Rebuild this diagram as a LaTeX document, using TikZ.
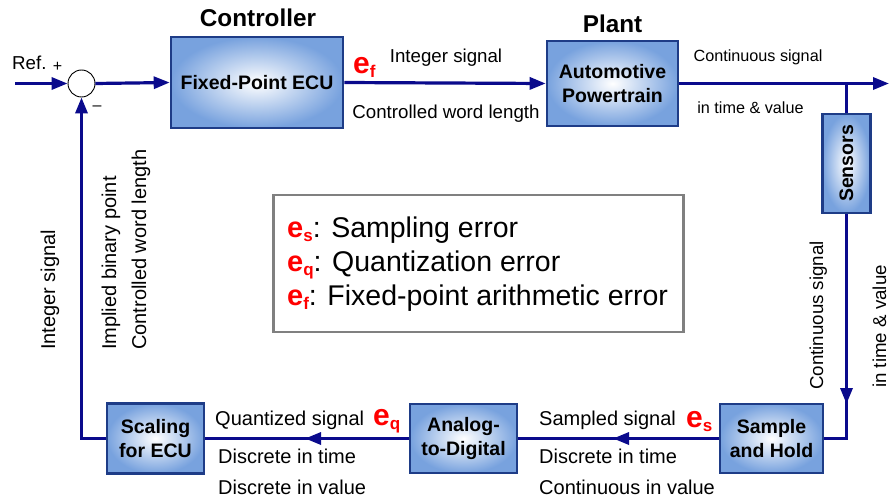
\documentclass[tikz,border=0pt]{standalone}
\usepackage{fontspec}
\setmainfont{Liberation Sans}
\usetikzlibrary{arrows.meta}
\definecolor{linec}{RGB}{10,10,140}
\definecolor{boxborder}{RGB}{30,60,135}
\definecolor{boxout}{RGB}{120,162,222}
\definecolor{legendgray}{RGB}{128,128,128}
\newcommand{\bigerr}[1]{{\fontsize{30}{32}\selectfont\bfseries\color{red}e\raisebox{-4pt}{\fontsize{17}{18}\selectfont #1}}}
\newcommand{\legerr}[1]{{\fontsize{29}{32}\selectfont\bfseries\color{red}e\raisebox{-4pt}{\fontsize{17}{18}\selectfont #1}}}
\tikzset{
  blk/.style={draw=boxborder, line width=2.6pt, inner color=white, outer color=boxout,
    align=center, font=\fontsize{19.5}{23.5}\selectfont\bfseries, inner sep=0pt},
  conn/.style={draw=linec, line width=3.2pt},
  tip/.style={-{Triangle[length=16pt,width=12pt]}},
  lbl/.style={font=\fontsize{18.7}{22}\selectfont, inner sep=0pt},
  lblsm/.style={font=\fontsize{16.2}{19}\selectfont, inner sep=0pt},
  lblbig/.style={font=\fontsize{20}{24}\selectfont, inner sep=0pt},
  ttl/.style={font=\fontsize{24.3}{28}\selectfont\bfseries, inner sep=0pt},
  legtxt/.style={font=\fontsize{28.5}{32}\selectfont, inner sep=0pt, anchor=base west}
}
\begin{document}
\begin{tikzpicture}[x=1pt,y=-1pt]
\useasboundingbox[fill=white] (0,0) rectangle (889,500);

% blocks
\node[blk, minimum width=172pt, minimum height=91pt] (ecu) at (257,82.5) {Fixed-Point ECU};
\node[blk, minimum width=131pt, minimum height=85pt] (plant) at (612.5,83.5) {Automotive\\Powertrain};
\node[blk, minimum width=99pt, minimum height=48pt, rotate=90] (sens) at (846.5,163.5) {Sensors};
\node[blk, minimum width=103pt, minimum height=69pt] (sh) at (771.5,438.5) {Sample\\and Hold};
\node[blk, minimum width=107pt, minimum height=69pt] (ad) at (463.5,438.5) {Analog-\\to-Digital};
\node[blk, minimum width=97pt, minimum height=70pt] (sc) at (155.5,438.5) {Scaling\\for ECU};

% summing junction
\node[circle, draw=black, line width=0.9pt, fill=white, minimum size=27pt, inner sep=0pt] (sum) at (81.5,83.5) {};

% titles
\node[ttl, anchor=base] (tctrl) at (258,27) {Controller};
\node[ttl, anchor=base] (tplant) at (612.5,32.5) {Plant};

% coordinates
\coordinate (refin) at (15,83.5);
\coordinate (outend) at (889,83.5);
\coordinate (branch) at (846.5,83.5);
\coordinate (downtip) at (846.5,404);
\coordinate (downmid) at (846.5,398);
\coordinate (shcorner) at (846.5,438.5);
\coordinate (m1) at (613,438.5);
\coordinate (m1b) at (620,438.5);
\coordinate (m2) at (305,438.5);
\coordinate (m2b) at (312,438.5);

% connectors
\draw[conn, tip] (refin) -- (sum.west);
\draw[conn, tip] (sum.east) -- (ecu.west);
\draw[conn, tip] (ecu.east) -- (plant.west);
\draw[conn, tip] (plant.east) -- (outend);
\draw[conn] (branch) -- (sens.east);
\draw[conn, tip] (sens.west) -- (downtip);
\draw[conn] (downmid) -- (shcorner) -- (sh.east);
\draw[conn, tip] (sh.west) -- (m1);
\draw[conn] (m1b) -- (ad.east);
\draw[conn, tip] (ad.west) -- (m2);
\draw[conn] (m2b) -- (sc.east);
\draw[conn, tip] (sc.west) -| (sum.south);

% small signs
\node[lbl, anchor=base west] (ref) at (12,70) {Ref.};
\node[font=\fontsize{16}{18}\selectfont, inner sep=0pt] (plus) at (57.5,67) {+};
\node[font=\fontsize{16}{18}\selectfont, inner sep=0pt] (minus) at (97,108) {\textendash};

% top labels
\node[anchor=base west, inner sep=0pt] (ef) at (353,73.5) {\bigerr{f}};
\node[lbl, anchor=base] (l1) at (446,62.5) {Integer signal};
\node[lbl, anchor=base] (l2) at (446,118.5) {Controlled word length};
\node[lblsm, anchor=base] (l3) at (758,62) {Continuous signal};
\node[lblsm, anchor=base] (l4) at (750.5,114) {in time \& value};

% right rotated labels
\node[lbl, rotate=90, anchor=base west] (r1) at (823,390) {Continuous signal};
\node[lbl, rotate=90, anchor=base west] (r2) at (886,388) {in time \& value};

% left rotated labels
\node[lblbig, rotate=90, anchor=base west] (lf1) at (55,350) {Integer signal};
\node[lblbig, rotate=90, anchor=base west] (lf2) at (116,350) {Implied binary point};
\node[lblbig, rotate=90, anchor=base west] (lf3) at (146,350) {Controlled word length};

% bottom labels
\node[anchor=base west, inner sep=0pt] (es) at (686,427) {\bigerr{s}};
\node[lblbig, anchor=base west] (b1) at (539,425) {Sampled signal};
\node[lblbig, anchor=base west] (b2) at (539,463) {Discrete in time};
\node[lblbig, anchor=base west] (b3) at (539,494) {Continuous in value};
\node[anchor=base west, inner sep=0pt] (eq) at (373,425) {\bigerr{q}};
\node[lblbig, anchor=base west] (b4) at (215,425) {Quantized signal};
\node[lblbig, anchor=base west] (b5) at (218,463) {Discrete in time};
\node[lblbig, anchor=base west] (b6) at (218,494) {Discrete in value};

% legend
\node[draw=legendgray, line width=2.6pt, minimum width=410pt, minimum height=137pt, inner sep=0pt] (legend) at (478.5,263.5) {};
\node[legtxt] (lg1) at (287,237) {\legerr{s}: Sampling error};
\node[legtxt] (lg2) at (287,271) {\legerr{q}: Quantization error};
\node[legtxt] (lg3) at (287,305) {\legerr{f}: Fixed-point arithmetic error};
\end{tikzpicture}
\end{document}
